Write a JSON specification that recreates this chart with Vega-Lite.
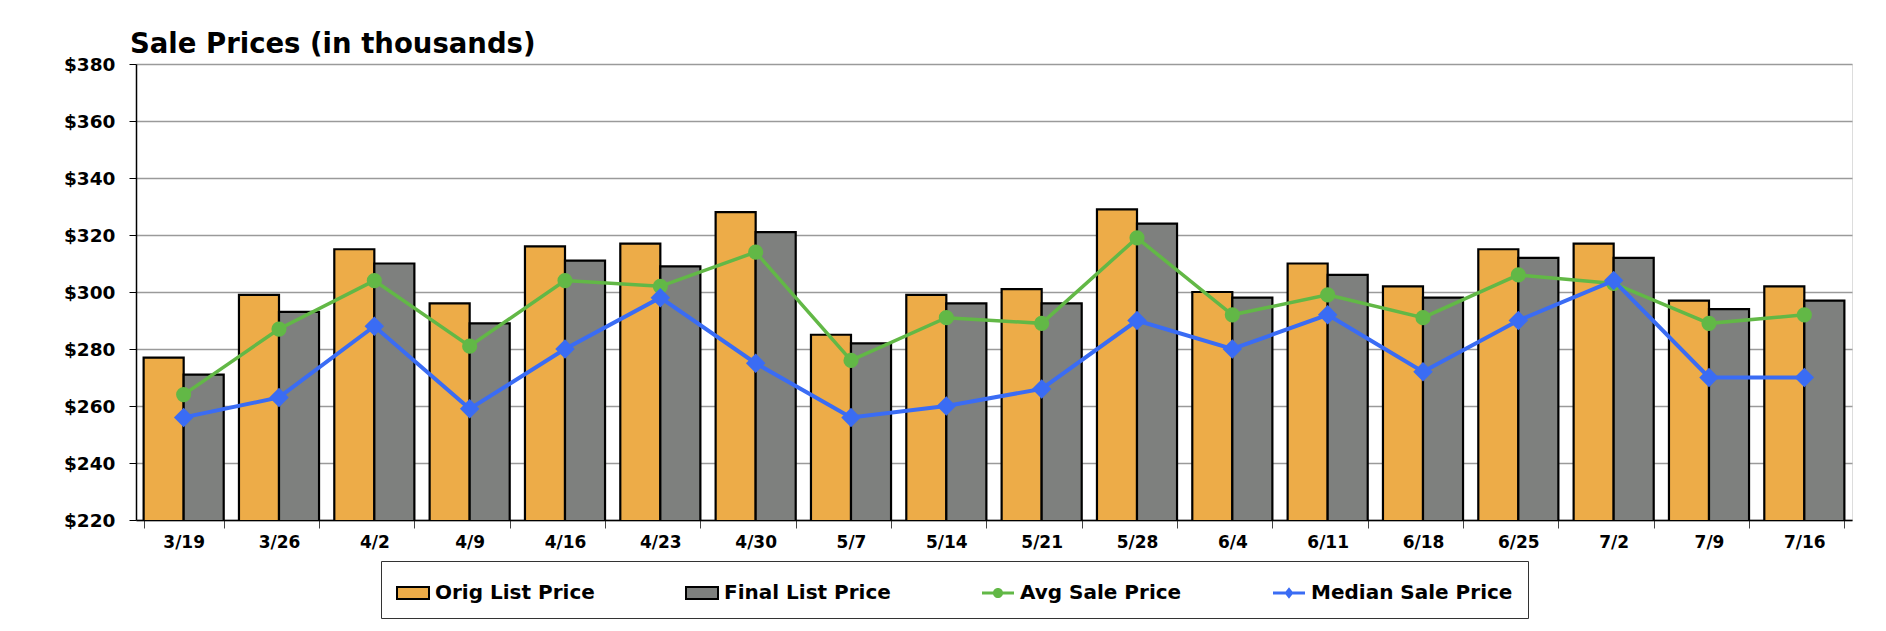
{
  "$schema": "https://vega.github.io/schema/vega-lite/v6.json",
  "width": 1716,
  "height": 456,
  "autosize": {"type": "none"},
  "padding": {"left": 136, "top": 64, "right": 34, "bottom": 111},
  "background": "white",
  "title": {
    "text": "Sale Prices (in thousands)",
    "anchor": "start",
    "frame": "group",
    "font": "DejaVu Sans",
    "fontSize": 27.5,
    "fontWeight": "bold",
    "color": "black",
    "offset": 12,
    "dx": -6,
    "dy": 15
  },
  "data": {
    "values": [
      {"date": "3/19", "Orig List Price": 277, "Final List Price": 271, "Avg Sale Price": 264, "Median Sale Price": 256},
      {"date": "3/26", "Orig List Price": 299, "Final List Price": 293, "Avg Sale Price": 287, "Median Sale Price": 263},
      {"date": "4/2", "Orig List Price": 315, "Final List Price": 310, "Avg Sale Price": 304, "Median Sale Price": 288},
      {"date": "4/9", "Orig List Price": 296, "Final List Price": 289, "Avg Sale Price": 281, "Median Sale Price": 259},
      {"date": "4/16", "Orig List Price": 316, "Final List Price": 311, "Avg Sale Price": 304, "Median Sale Price": 280},
      {"date": "4/23", "Orig List Price": 317, "Final List Price": 309, "Avg Sale Price": 302, "Median Sale Price": 298},
      {"date": "4/30", "Orig List Price": 328, "Final List Price": 321, "Avg Sale Price": 314, "Median Sale Price": 275},
      {"date": "5/7", "Orig List Price": 285, "Final List Price": 282, "Avg Sale Price": 276, "Median Sale Price": 256},
      {"date": "5/14", "Orig List Price": 299, "Final List Price": 296, "Avg Sale Price": 291, "Median Sale Price": 260},
      {"date": "5/21", "Orig List Price": 301, "Final List Price": 296, "Avg Sale Price": 289, "Median Sale Price": 266},
      {"date": "5/28", "Orig List Price": 329, "Final List Price": 324, "Avg Sale Price": 319, "Median Sale Price": 290},
      {"date": "6/4", "Orig List Price": 300, "Final List Price": 298, "Avg Sale Price": 292, "Median Sale Price": 280},
      {"date": "6/11", "Orig List Price": 310, "Final List Price": 306, "Avg Sale Price": 299, "Median Sale Price": 292},
      {"date": "6/18", "Orig List Price": 302, "Final List Price": 298, "Avg Sale Price": 291, "Median Sale Price": 272},
      {"date": "6/25", "Orig List Price": 315, "Final List Price": 312, "Avg Sale Price": 306, "Median Sale Price": 290},
      {"date": "7/2", "Orig List Price": 317, "Final List Price": 312, "Avg Sale Price": 303, "Median Sale Price": 304},
      {"date": "7/9", "Orig List Price": 297, "Final List Price": 294, "Avg Sale Price": 289, "Median Sale Price": 270},
      {"date": "7/16", "Orig List Price": 302, "Final List Price": 297, "Avg Sale Price": 292, "Median Sale Price": 270}
    ]
  },
  "transform": [
    {"fold": ["Orig List Price", "Final List Price", "Avg Sale Price", "Median Sale Price"], "as": ["series", "price"]}
  ],
  "encoding": {
    "x": {
      "field": "date",
      "type": "nominal",
      "sort": null,
      "scale": {"paddingInner": 0.16, "paddingOuter": 0.08},
      "axis": {
        "title": null,
        "labelAngle": 0,
        "tickBand": "extent",
        "tickSize": 8,
        "tickColor": "#444444",
        "tickWidth": 1,
        "domainColor": "black",
        "domainWidth": 1.5,
        "labelFont": "DejaVu Sans",
        "labelFontSize": 17,
        "labelFontWeight": "bold",
        "labelColor": "black",
        "labelPadding": 6,
        "grid": false
      }
    },
    "y": {
      "field": "price",
      "type": "quantitative",
      "scale": {"domain": [220, 380], "nice": false, "zero": false},
      "axis": {
        "title": null,
        "values": [220, 240, 260, 280, 300, 320, 340, 360, 380],
        "format": "$d",
        "tickSize": 7,
        "tickColor": "black",
        "domainColor": "black",
        "domainWidth": 1.5,
        "labelPadding": 14,
        "labelFont": "DejaVu Sans",
        "labelFontSize": 18.5,
        "labelFontWeight": "bold",
        "labelColor": "black",
        "grid": true,
        "gridColor": "#9a9a9a",
        "gridWidth": 1.5
      }
    },
    "color": {
      "field": "series",
      "type": "nominal",
      "scale": {
        "domain": ["Orig List Price", "Final List Price", "Avg Sale Price", "Median Sale Price"],
        "range": ["#EDAC48", "#7E807E", "#62B846", "#3A6CF4"]
      },
      "legend": null
    }
  },
  "layer": [
    {
      "transform": [{"filter": "false"}],
      "mark": {"type": "point", "filled": true, "opacity": 1, "strokeWidth": 2},
      "encoding": {
        "fill": {
          "field": "series",
          "type": "nominal",
          "scale": {
            "domain": ["Orig List Price", "Final List Price", "Avg Sale Price", "Median Sale Price"],
            "range": ["#EDAC48", "#7E807E", "#62B846", "#3A6CF4"]
          },
          "legend": {
            "title": null,
            "orient": "none",
            "legendX": 245,
            "legendY": 497,
            "direction": "horizontal",
            "columns": 4,
            "columnPadding": 87,
            "symbolSize": 1024,
            "symbolStrokeWidth": 2,
            "labelOffset": 5,
            "labelLimit": 0,
            "labelFont": "DejaVu Sans",
            "labelFontSize": 20,
            "labelFontWeight": "bold",
            "labelColor": "black",
            "padding": 15,
            "strokeColor": "#333333",
            "fillColor": "white",
            "symbolOpacity": 1
          }
        },
        "stroke": {
          "field": "series",
          "type": "nominal",
          "scale": {
            "domain": ["Orig List Price", "Final List Price", "Avg Sale Price", "Median Sale Price"],
            "range": ["#000000", "#000000", "transparent", "transparent"]
          },
          "legend": {"title": null}
        },
        "shape": {
          "field": "series",
          "type": "nominal",
          "scale": {
            "domain": ["Orig List Price", "Final List Price", "Avg Sale Price", "Median Sale Price"],
            "range": [
              "M-1,-0.375H1V0.375H-1Z",
              "M-1,-0.375H1V0.375H-1Z",
              "M-1,-0.1H1V0.1H-1Z M-0.32,0A0.32,0.32 0 1 1 0.32,0A0.32,0.32 0 1 1 -0.32,0Z",
              "M-1,-0.1H1V0.1H-1Z M0,-0.36L0.28,0L0,0.36L-0.28,0Z"
            ]
          },
          "legend": {"title": null}
        }
      }
    },
    {
      "transform": [{"filter": "datum.series === 'Orig List Price' || datum.series === 'Final List Price'"}],
      "mark": {"type": "bar", "stroke": "black", "strokeWidth": 2.2, "clip": true},
      "encoding": {
        "xOffset": {
          "field": "series",
          "type": "nominal",
          "sort": ["Orig List Price", "Final List Price"],
          "scale": {"paddingInner": 0, "paddingOuter": 0}
        }
      }
    },
    {
      "transform": [{"filter": "datum.series === 'Avg Sale Price'"}],
      "mark": {"type": "line", "strokeWidth": 3.5}
    },
    {
      "transform": [{"filter": "datum.series === 'Avg Sale Price'"}],
      "mark": {"type": "point", "shape": "circle", "filled": true, "size": 230, "opacity": 1}
    },
    {
      "transform": [{"filter": "datum.series === 'Median Sale Price'"}],
      "mark": {"type": "line", "strokeWidth": 4}
    },
    {
      "transform": [{"filter": "datum.series === 'Median Sale Price'"}],
      "mark": {"type": "point", "shape": "diamond", "filled": true, "size": 380, "opacity": 1}
    }
  ]
}
